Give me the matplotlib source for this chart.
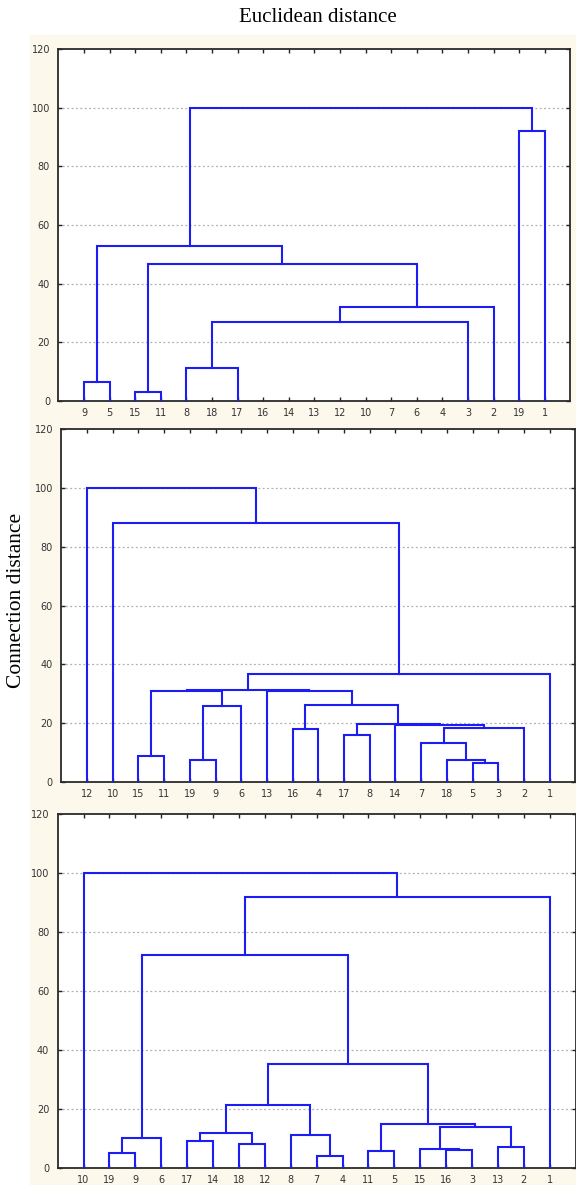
import matplotlib
matplotlib.use("Agg")
import matplotlib.pyplot as plt
from matplotlib.patches import Rectangle

# Leaf order along the x axis, one list per panel
leaves1 = [9, 5, 15, 11, 8, 18, 17, 16, 14, 13, 12, 10, 7, 6, 4, 3, 2, 19, 1]
leaves2 = [12, 10, 15, 11, 19, 9, 6, 13, 16, 4, 17, 8, 14, 7, 18, 5, 3, 2, 1]
leaves3 = [10, 19, 9, 6, 17, 14, 18, 12, 8, 7, 4, 11, 5, 15, 16, 3, 13, 2, 1]

# Joins: (cluster name, left child, right child, linkage distance)
# ints are leaves, strings are earlier clusters
links1 = [
    ("a", 9, 5, 6.4),
    ("b", 15, 11, 3.2),
    ("c", 8, 17, 11.4),
    ("d", "c", 3, 26.8),
    ("e", "d", 2, 32.1),
    ("f", "b", "e", 46.7),
    ("g", "a", "f", 52.9),
    ("h", 19, 1, 92.2),
    ("i", "g", "h", 100.0),
]

links2 = [
    ("a", 15, 11, 9.0),
    ("b", 19, 9, 7.4),
    ("c", "b", 6, 25.7),
    ("d", "a", "c", 31.1),
    ("e", 16, 4, 17.9),
    ("f", 17, 8, 15.9),
    ("g", 5, 3, 6.6),
    ("h", 18, "g", 7.6),
    ("i", 7, "h", 13.3),
    ("j", "i", 2, 18.4),
    ("k", 14, "j", 19.4),
    ("l", "f", "k", 19.6),
    ("m", "e", "l", 26.2),
    ("n", 13, "m", 31.0),
    ("o", "d", "n", 31.3),
    ("p", "o", 1, 36.7),
    ("q", 10, "p", 88.0),
    ("r", 12, "q", 100.0),
]

links3 = [
    ("a", 19, 9, 5.1),
    ("b", "a", 6, 10.2),
    ("c", 17, 14, 9.0),
    ("d", 18, 12, 8.0),
    ("e", "c", "d", 11.7),
    ("f", 7, 4, 4.0),
    ("g", 8, "f", 11.2),
    ("h", "e", "g", 21.3),
    ("i", 11, 5, 5.6),
    ("j", 16, 3, 6.1),
    ("k", 15, "j", 6.5),
    ("l", 13, 2, 7.1),
    ("m", "k", "l", 13.8),
    ("n", "i", "m", 14.8),
    ("o", "h", "n", 35.2),
    ("p", "b", "o", 72.1),
    ("q", "p", 1, 91.8),
    ("r", 10, "q", 100.0),
]

y_ticks = [0, 20, 40, 60, 80, 100, 120]
grid_levels = [20, 40, 60, 80, 100]

LINE_COLOR = "#1c1cf5"
W, H = 576, 1185


def draw_tree(ax, leaves, links):
    pos = {leaf: (i, 0.0) for i, leaf in enumerate(leaves)}
    for name, left, right, h in links:
        xl, hl = pos[left]
        xr, hr = pos[right]
        ax.plot([xl, xl, xr, xr], [hl, h, h, hr], color=LINE_COLOR,
                lw=1.5, solid_joinstyle="miter", zorder=3)
        pos[name] = ((xl + xr) / 2.0, h)


def style_axes(ax, leaves):
    ax.set_xlim(-1, len(leaves))
    ax.set_ylim(0, 120)
    ax.set_xticks(range(len(leaves)))
    ax.set_xticklabels([str(v) for v in leaves])
    ax.set_yticks(y_ticks)
    for g in grid_levels:
        ax.axhline(g, color="#b0b0b0", lw=0.9, ls=(0, (1.5, 2.0)), zorder=1)
    ax.tick_params(axis="both", direction="in", length=3, width=1,
                   color="#222222", labelsize=7, labelcolor="#333333",
                   top=True, right=True)
    ax.tick_params(axis="x", pad=5)
    ax.tick_params(axis="y", pad=6)
    for sp in ax.spines.values():
        sp.set_color("#2a2a2a")
        sp.set_linewidth(1.3)
    ax.set_facecolor("white")


def px_axes(fig, left, right, top, bottom):
    return fig.add_axes([left / W, 1 - bottom / H, (right - left) / W, (bottom - top) / H])


fig = plt.figure(figsize=(W / 100, H / 100), dpi=100)
fig.patch.set_facecolor("white")
fig.patches.append(Rectangle((30 / W, 0), 1 - 30 / W, 1 - 35 / H,
                             transform=fig.transFigure, color="#fdf8ec", zorder=-5))

panels = [
    (leaves1, links1, (58.4, 570.4, 49, 401)),
    (leaves2, links2, (61.3, 575.3, 429, 782)),
    (leaves3, links3, (57.6, 575.6, 814, 1168)),
]

for leaves, links, box in panels:
    ax = px_axes(fig, *box)
    style_axes(ax, leaves)
    draw_tree(ax, leaves, links)

fig.text(318 / W, 1 - 18 / H, "Euclidean distance", ha="center", va="center",
         family="Liberation Serif", fontsize=15)
fig.text(17 / W, 1 - 600 / H, "Connection distance", ha="center", va="center",
         rotation=90, family="Liberation Serif", fontsize=15.5)

fig.savefig("out.png", dpi=100)
